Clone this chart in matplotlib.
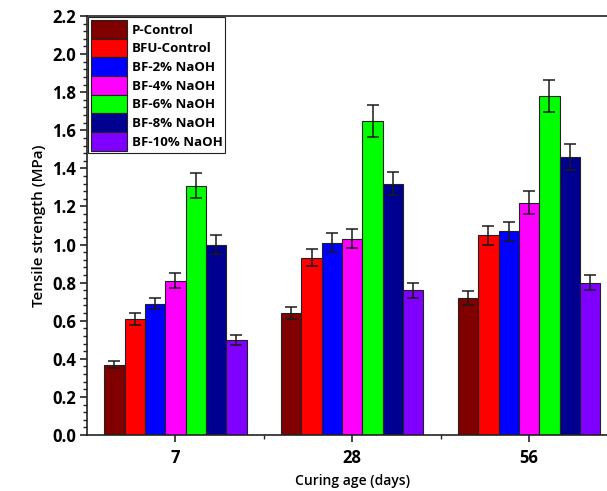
import matplotlib
matplotlib.use("Agg")
import matplotlib.pyplot as plt
import numpy as np
from matplotlib.ticker import MultipleLocator, FixedLocator

plt.rcParams['font.family'] = ['Open Sans', 'DejaVu Sans']

ages = ["7", "28", "56"]
series = ["P-Control", "BFU-Control", "BF-2% NaOH", "BF-4% NaOH",
          "BF-6% NaOH", "BF-8% NaOH", "BF-10% NaOH"]
colors = ["#800000", "#FF0000", "#0000FF", "#FF00FF", "#00FF00", "#000090", "#8000FF"]

p_control = [0.37, 0.64, 0.72]
bfu_control = [0.61, 0.93, 1.05]
bf2 = [0.69, 1.01, 1.07]
bf4 = [0.81, 1.03, 1.22]
bf6 = [1.31, 1.65, 1.78]
bf8 = [1.00, 1.32, 1.46]
bf10 = [0.50, 0.76, 0.80]

err_p = [0.02, 0.03, 0.035]
err_bfu = [0.03, 0.045, 0.05]
err_bf2 = [0.03, 0.05, 0.05]
err_bf4 = [0.04, 0.05, 0.06]
err_bf6 = [0.065, 0.085, 0.085]
err_bf8 = [0.05, 0.06, 0.07]
err_bf10 = [0.025, 0.04, 0.04]

values = [p_control, bfu_control, bf2, bf4, bf6, bf8, bf10]
errors = [err_p, err_bfu, err_bf2, err_bf4, err_bf6, err_bf8, err_bf10]

fig = plt.figure(figsize=(6.07, 4.91), dpi=100)
ax = fig.add_axes([87/607, 56/491, (617.5-87)/607, (435-16)/491])

x = np.arange(1, len(ages) + 1)
w = 0.115
n = len(series)
for i, (name, vals, errs, c) in enumerate(zip(series, values, errors, colors)):
    pos = x + (i - (n - 1) / 2) * w
    ax.bar(pos, vals, width=w, color=c, edgecolor="#222222", linewidth=0.8, label=name, zorder=2)
    ax.errorbar(pos, vals, yerr=errs, fmt='none', ecolor='#1a1a1a', elinewidth=1.1,
                capsize=4, capthick=1.1, zorder=3)

yt = np.arange(0, 2.21, 0.2)
ax.set_xlim(0.5, 3.5)
ax.set_ylim(0, 2.2)
ax.set_xticks(x)
ax.set_xticklabels(ages, fontsize=12, fontweight='bold')
ax.xaxis.set_minor_locator(FixedLocator([1.5, 2.5]))
ax.set_yticks(yt)
ax.set_yticklabels([f"{v:.1f}" for v in yt], fontsize=12, fontweight='bold')
ax.yaxis.set_minor_locator(MultipleLocator(0.04))
ax.tick_params(axis='both', which='major', direction='out', length=5, width=1.2, color='#222222')
ax.tick_params(axis='both', which='minor', direction='out', length=3, width=1, color='#222222')
ax.tick_params(axis='x', which='major', pad=5)
ax.tick_params(axis='y', which='major', pad=3)

for s in ['left', 'bottom', 'top']:
    ax.spines[s].set_linewidth(1.2)
    ax.spines[s].set_color('#222222')
ax.spines['right'].set_visible(False)

ax.set_xlabel("Curing age (days)", fontsize=10, fontweight='semibold', labelpad=5)
ax.set_ylabel("Tensile strength (MPa)", fontsize=11, fontweight='semibold', labelpad=4)

leg = ax.legend(loc='upper left', bbox_to_anchor=(0.0, 1.0), borderaxespad=0.1,
                frameon=True, fancybox=False, edgecolor='#222222', framealpha=1,
                prop={'weight': 'bold', 'size': 9.5}, handlelength=2.7, handleheight=1.8,
                labelspacing=0.0, handletextpad=0.4, borderpad=0.2)
leg.get_frame().set_linewidth(0.8)

fig.savefig("out.png", dpi=100)
